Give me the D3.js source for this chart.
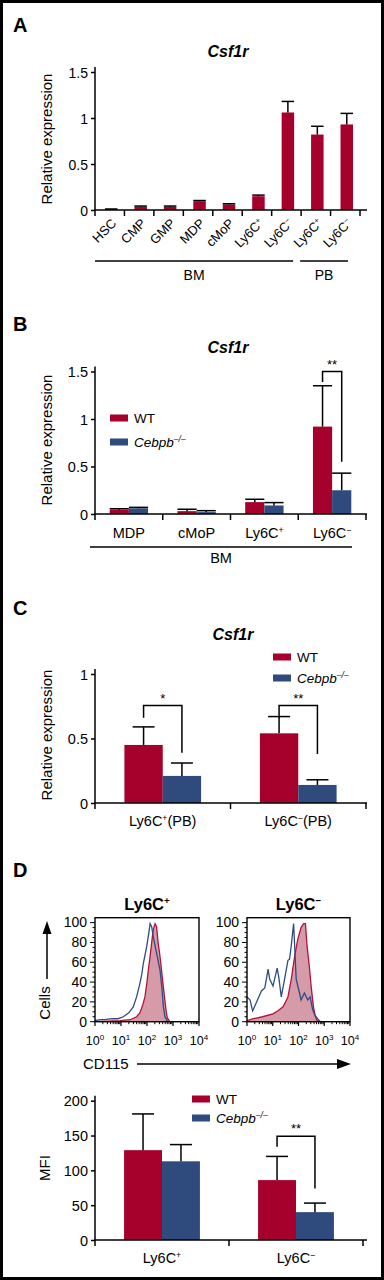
<!DOCTYPE html>
<html>
<head>
<meta charset="utf-8">
<script src="https://cdn.jsdelivr.net/npm/d3@7"></script>
<style>
  body { margin: 0; background: #fff; }
  svg { display: block; font-family: "Liberation Sans", Arial, Helvetica, sans-serif; }
</style>
</head>
<body>
<svg id="fig" width="384" height="1280"></svg>
<script>
const RED = "#a6002c", BLUE = "#2f4b7d", PINK = "#d59ba8", HRED = "#b3123e", HBLUE = "#2d4c82";

/* ---- A : Csf1r, sorted populations ---- */
const aCats  = ["HSC", "CMP", "GMP", "MDP", "cMoP", "Ly6C+", "Ly6C-", "Ly6C+", "Ly6C-"];
const aMean  = [0.008, 0.035, 0.035, 0.095, 0.06, 0.15, 1.06, 0.82, 0.93];
const aErr   = [0.003, 0.008, 0.008, 0.008, 0.008, 0.012, 0.12, 0.09, 0.12];
const aTicks = [0, 0.5, 1, 1.5];
const aGroups = [{ label: "BM", from: 0, to: 6 }, { label: "PB", from: 7, to: 8 }];

/* ---- B : Csf1r, BM, WT vs Cebpb-/- ---- */
const bCats  = ["MDP", "cMoP", "Ly6C+", "Ly6C-"];
const bWT    = [0.045, 0.03, 0.125, 0.92];
const bWTerr = [0.01, 0.02, 0.03, 0.43];
const bKO    = [0.06, 0.02, 0.09, 0.25];
const bKOerr = [0.01, 0.015, 0.03, 0.18];
const bTicks = [0, 0.5, 1, 1.5];
const bSig   = [{ cat: 3, text: "**", top: 1.5, left: 1.39, right: 0.55 }];

/* ---- C : Csf1r, PB ---- */
const cCats  = ["Ly6C+(PB)", "Ly6C-(PB)"];
const cWT    = [0.45, 0.54];
const cWTerr = [0.14, 0.13];
const cKO    = [0.21, 0.14];
const cKOerr = [0.10, 0.04];
const cTicks = [0, 0.5, 1];
const cSig   = [{ cat: 0, text: "*", top: 0.755, left: 0.66, right: 0.39 },
                { cat: 1, text: "**", top: 0.755, left: 0.66, right: 0.38 }];

/* ---- D : CD115 histograms [log10 CD115, % of max] ---- */
const hPosWT = [[0,0],[0.96,1],[1.35,2],[1.6,5],[1.73,9],[1.85,18],[1.92,25],[2.0,40],[2.05,52],[2.12,66],[2.18,80],[2.24,93],[2.31,99],[2.37,96],[2.43,79],[2.48,70],[2.53,59],[2.63,35],[2.73,12],[2.78,4],[2.88,0],[4,0]];
const hPosKO = [[0,1],[0.2,2],[0.38,2],[0.65,3],[0.88,3],[1.09,5],[1.3,9],[1.47,15],[1.6,25],[1.73,39],[1.8,48],[1.86,59],[1.99,76],[2.06,88],[2.12,99],[2.18,96],[2.24,86],[2.37,69],[2.5,52],[2.57,35],[2.63,15],[2.69,5],[2.8,0],[4,0]];
const hNegWT = [[0,1],[0.24,3],[0.6,5],[1.01,8],[1.2,11],[1.40,15],[1.59,25],[1.72,43],[1.85,66],[1.97,83],[2.10,95],[2.20,99],[2.27,99],[2.33,77],[2.42,56],[2.49,36],[2.58,15],[2.65,6],[2.70,2],[2.8,0],[4,0]];
const hNegKO = [[0,25],[0.115,22],[0.22,11],[0.31,16],[0.44,24],[0.56,31],[0.69,34],[0.82,53],[0.88,43],[1.01,36],[1.17,54],[1.24,44],[1.33,25],[1.46,43],[1.59,62],[1.65,63],[1.72,77],[1.81,99],[1.85,77],[1.91,43],[2.04,29],[2.10,22],[2.23,29],[2.36,22],[2.45,25],[2.55,12],[2.65,6],[2.74,3],[2.85,0],[4,0]];
const histTicks = [0, 20, 40, 60, 80, 100];
const histDecades = [0, 1, 2, 3, 4];

/* ---- D : MFI ---- */
const dCats  = ["Ly6C+", "Ly6C-"];
const dWT    = [129, 86];
const dWTerr = [52, 34];
const dKO    = [113, 40];
const dKOerr = [24, 13];
const dTicks = [0, 50, 100, 150, 200];
const dSig   = [{ cat: 1, text: "**", top: 149, left: 134, right: 74 }];

const svg = d3.select("#fig");
svg.append("rect").attr("x", 1.5).attr("y", 1.5).attr("width", 381).attr("height", 1277)
   .attr("fill", "#fff").attr("stroke", "#000").attr("stroke-width", 3);

/* text with Ly6C+/- superscripts */
function rich(sel, str, fs) {
  const m = str.match(/^(.*?)([+-])(.*)$/);
  if (!m) { sel.text(str); return sel; }
  sel.append("tspan").text(m[1]);
  sel.append("tspan").attr("font-size", fs * 0.6).attr("dy", -fs * 0.36).text(m[2] === "+" ? "+" : "\u2212");
  if (m[3]) sel.append("tspan").attr("font-size", fs).attr("dy", fs * 0.36).text(m[3]);
  return sel;
}

function panelLetter(t, y) {
  svg.append("text").attr("x", 13).attr("y", y).attr("font-size", 20).attr("font-weight", "bold").text(t);
}
function title(x, y) {
  svg.append("text").attr("x", x).attr("y", y).attr("text-anchor", "middle").attr("font-size", 16)
     .attr("font-weight", "bold").attr("font-style", "italic").text("Csf1r");
}
function yTitle(x, y, t) {
  svg.append("text").attr("transform", `translate(${x},${y}) rotate(-90)`).attr("text-anchor", "middle")
     .attr("font-size", 15).text(t);
}

function yAxis(y, ticks, x0, fs) {
  const ax = svg.append("g").attr("transform", `translate(${x0},0)`)
    .call(d3.axisLeft(y).tickValues(ticks).tickFormat(d3.format("")).tickSize(4).tickPadding(3));
  ax.attr("font-family", null).attr("font-size", null);
  ax.select(".domain").remove();
  const [r0, r1] = y.range();
  ax.append("line").attr("y1", r0).attr("y2", r1 - 5).attr("stroke", "#000").attr("stroke-width", 1.5);
  ax.selectAll(".tick line").attr("stroke-width", 1.5);
  ax.selectAll(".tick text").attr("font-size", fs).attr("fill", "#000").attr("dy", "0.36em");
}

function xAxis(x, y0, xEnd) {
  const g = svg.append("g");
  const [r0] = x.range();
  g.append("line").attr("x1", r0 - 0.75).attr("x2", xEnd).attr("y1", y0).attr("y2", y0)
   .attr("stroke", "#000").attr("stroke-width", 1.5);
  const edges = x.domain().map(d => x(d)).concat([x(x.domain()[x.domain().length - 1]) + x.bandwidth()]);
  g.selectAll(".xt").data(edges).join("line").attr("x1", d => d).attr("x2", d => d)
   .attr("y1", y0).attr("y2", y0 + 6).attr("stroke", "#000").attr("stroke-width", 1.5);
}

function errBar(xc, yTop, yE, capW) {
  svg.append("line").attr("x1", xc).attr("x2", xc).attr("y1", yTop).attr("y2", yE)
     .attr("stroke", "#000").attr("stroke-width", 1.5);
  svg.append("line").attr("x1", xc - capW / 2).attr("x2", xc + capW / 2).attr("y1", yE).attr("y2", yE)
     .attr("stroke", "#000").attr("stroke-width", 1.5);
}

function legend(x, y1, y2) {
  svg.append("rect").attr("x", x).attr("y", y1 - 3.5).attr("width", 18).attr("height", 7).attr("fill", RED);
  svg.append("rect").attr("x", x).attr("y", y2 - 3.5).attr("width", 18).attr("height", 7).attr("fill", BLUE);
  svg.append("text").attr("x", x + 24).attr("y", y1 + 5).attr("font-size", 13.5).text("WT");
  const t = svg.append("text").attr("x", x + 24).attr("y", y2 + 5).attr("font-size", 13.5).attr("font-style", "italic");
  t.append("tspan").text("Cebpb");
  t.append("tspan").attr("font-size", 8.5).attr("dy", -5).text("\u2013/\u2013");
}

/* grouped WT / KO bar panel */
function grouped(o) {
  const x = d3.scaleBand().domain(d3.range(o.cats.length)).range(o.xr);
  const y = d3.scaleLinear().domain(o.dom).range(o.yr);
  const bw = x.bandwidth() * 0.283;
  const cap = Math.min(bw, 22);
  const c = i => x(i) + x.bandwidth() / 2;
  o.cats.forEach((cat, i) => {
    svg.append("rect").attr("x", c(i) - bw).attr("y", y(o.wt[i])).attr("width", bw)
       .attr("height", y(0) - y(o.wt[i])).attr("fill", RED);
    svg.append("rect").attr("x", c(i)).attr("y", y(o.ko[i])).attr("width", bw)
       .attr("height", y(0) - y(o.ko[i])).attr("fill", BLUE);
    errBar(c(i) - bw / 2, y(o.wt[i]), y(o.wt[i] + o.wtErr[i]), cap);
    errBar(c(i) + bw / 2, y(o.ko[i]), y(o.ko[i] + o.koErr[i]), cap);
    rich(svg.append("text").attr("x", c(i)).attr("y", o.labY).attr("text-anchor", "middle")
         .attr("font-size", 14.5), cat, 14.5);
  });
  o.sig.forEach(s => {
    const xl = c(s.cat) - bw / 2, xr = c(s.cat) + bw / 2;
    svg.append("path")
       .attr("d", `M${xl},${y(s.left)}V${y(s.top)}H${xr}V${y(s.right)}`)
       .attr("fill", "none").attr("stroke", "#000").attr("stroke-width", 1.5);
    svg.append("text").attr("x", (xl + xr) / 2).attr("y", y(s.top) - 3).attr("text-anchor", "middle")
       .attr("font-size", 13).text(s.text);
  });
  yAxis(y, o.ticks, o.xr[0], 14.5);
  xAxis(x, o.yr[0], 367);
  return { x, y };
}

/* ================= A ================= */
panelLetter("A", 32);
title(228, 57);
{
  const x = d3.scaleBand().domain(d3.range(aCats.length)).range([95, 360]);
  const y = d3.scaleLinear().domain([0, 1.5]).range([210, 72]);
  const bw = 12.5;
  const c = i => x(i) + x.bandwidth() / 2 + 1.5;
  aCats.forEach((cat, i) => {
    svg.append("rect").attr("x", c(i) - bw / 2).attr("y", y(aMean[i])).attr("width", bw)
       .attr("height", y(0) - y(aMean[i])).attr("fill", RED);
    errBar(c(i), y(aMean[i]), y(aMean[i] + aErr[i]), bw);
    rich(svg.append("text").attr("transform", `translate(${c(i) + 6},${224}) rotate(-45)`)
         .attr("text-anchor", "end").attr("font-size", 13), cat, 13);
  });
  yAxis(y, aTicks, 95, 14);
  xAxis(x, 210, 367);
  aGroups.forEach((gr, k) => {
    const x1 = x(gr.from) - (k ? 1 : 0), x2 = x(gr.to) + x.bandwidth() - (k ? 12 : 8);
    svg.append("line").attr("x1", x1).attr("x2", x2).attr("y1", 261).attr("y2", 261)
       .attr("stroke", "#000").attr("stroke-width", 1.5);
    svg.append("text").attr("x", (x1 + x2) / 2).attr("y", 280).attr("text-anchor", "middle")
       .attr("font-size", 14).text(gr.label);
  });
  yTitle(52, 139, "Relative expression");
}

/* ================= B ================= */
panelLetter("B", 331);
title(228, 353);
grouped({ cats: bCats, wt: bWT, wtErr: bWTerr, ko: bKO, koErr: bKOerr, sig: bSig,
          dom: [0, 1.5], ticks: bTicks, xr: [95, 366], yr: [514, 371.5], labY: 538 });
legend(110, 418, 442);
svg.append("line").attr("x1", 90).attr("x2", 352).attr("y1", 547).attr("y2", 547)
   .attr("stroke", "#000").attr("stroke-width", 1.5);
svg.append("text").attr("x", 221).attr("y", 563).attr("text-anchor", "middle").attr("font-size", 14.5).text("BM");
yTitle(52, 440, "Relative expression");

/* ================= C ================= */
panelLetter("C", 615);
title(233, 640);
grouped({ cats: cCats, wt: cWT, wtErr: cWTerr, ko: cKO, koErr: cKOerr, sig: cSig,
          dom: [0, 1], ticks: cTicks, xr: [95, 366], yr: [803, 674], labY: 826 });
legend(273, 657, 678);
yTitle(52, 735, "Relative expression");

/* ================= D : histograms ================= */
panelLetter("D", 877);
function hist(x0, x1, label, wt, ko) {
  const x = d3.scaleLinear().domain([0, 4]).range([x0, x1]);
  const y = d3.scaleLinear().domain([0, 105]).range([1021.7, 917.7]);
  const id = "clip" + Math.round(x0);
  svg.append("clipPath").attr("id", id).append("rect")
     .attr("x", x0).attr("y", 917.7).attr("width", x1 - x0).attr("height", 1021.7 - 917.7);
  const g = svg.append("g").attr("clip-path", `url(#${id})`);
  g.append("path").datum(wt).attr("d", d3.area().x(d => x(d[0])).y0(y(0)).y1(d => y(d[1])))
   .attr("fill", PINK);
  g.append("path").datum(wt).attr("d", d3.line().x(d => x(d[0])).y(d => y(d[1])))
   .attr("fill", "none").attr("stroke", HRED).attr("stroke-width", 1.3);
  g.append("path").datum(ko).attr("d", d3.line().x(d => x(d[0])).y(d => y(d[1])))
   .attr("fill", "none").attr("stroke", HBLUE).attr("stroke-width", 1.3);
  svg.append("rect").attr("x", x0).attr("y", 917.7).attr("width", x1 - x0).attr("height", 1021.7 - 917.7)
     .attr("fill", "none").attr("stroke", "#000").attr("stroke-width", 1.4);
  // y ticks
  const minorY = d3.range(0, 101, 5);
  svg.selectAll(null).data(minorY).join("line")
     .attr("x1", x0).attr("x2", d => x0 - (d % 20 === 0 ? 5 : 2.5))
     .attr("y1", d => y(d)).attr("y2", d => y(d)).attr("stroke", "#000").attr("stroke-width", 1);
  svg.selectAll(null).data(histTicks).join("text")
     .attr("x", x0 - 8).attr("y", d => y(d) + 4.8).attr("text-anchor", "end").attr("font-size", 14).text(d => d);
  // x ticks (log)
  const minorX = [];
  for (let dc = 0; dc < 4; dc++) for (let k = 2; k <= 9; k++) minorX.push(dc + Math.log10(k));
  svg.selectAll(null).data(minorX).join("line")
     .attr("x1", d => x(d)).attr("x2", d => x(d)).attr("y1", 1021.7).attr("y2", 1024.2)
     .attr("stroke", "#000").attr("stroke-width", 1);
  svg.selectAll(null).data(histDecades).join("line")
     .attr("x1", d => x(d)).attr("x2", d => x(d)).attr("y1", 1021.7).attr("y2", 1026)
     .attr("stroke", "#000").attr("stroke-width", 1.2);
  histDecades.forEach(d => {
    const t = svg.append("text").attr("x", x(d)).attr("y", 1045).attr("text-anchor", "middle").attr("font-size", 12.5);
    t.append("tspan").text("10");
    t.append("tspan").attr("font-size", 8).attr("dy", -5).text(d);
  });
  rich(svg.append("text").attr("x", (x0 + x1) / 2).attr("y", 910).attr("text-anchor", "middle")
       .attr("font-size", 16.5).attr("font-weight", "bold"), label, 16.5);
}
hist(95, 199, "Ly6C+", hPosWT, hPosKO);
hist(247, 350, "Ly6C-", hNegWT, hNegKO);

// Cells arrow
svg.append("line").attr("x1", 47).attr("x2", 47).attr("y1", 932).attr("y2", 979)
   .attr("stroke", "#000").attr("stroke-width", 1.5);
svg.append("path").attr("d", "M47,921L42.5,934L51.5,934Z").attr("fill", "#000");
yTitle(50, 1003, "Cells");
// CD115 arrow
svg.append("text").attr("x", 83).attr("y", 1069).attr("font-size", 15).text("CD115");
svg.append("line").attr("x1", 137).attr("x2", 340).attr("y1", 1064).attr("y2", 1064)
   .attr("stroke", "#000").attr("stroke-width", 1.5);
svg.append("path").attr("d", "M351,1064L337,1059L337,1069Z").attr("fill", "#000");

/* ================= D : MFI bars ================= */
grouped({ cats: dCats, wt: dWT, wtErr: dWTerr, ko: dKO, koErr: dKOerr, sig: dSig,
          dom: [0, 200], ticks: dTicks, xr: [95, 363], yr: [1240, 1100.7], labY: 1263 });
legend(192, 1099, 1118);
yTitle(50, 1168, "MFI");
</script>
</body>
</html>
